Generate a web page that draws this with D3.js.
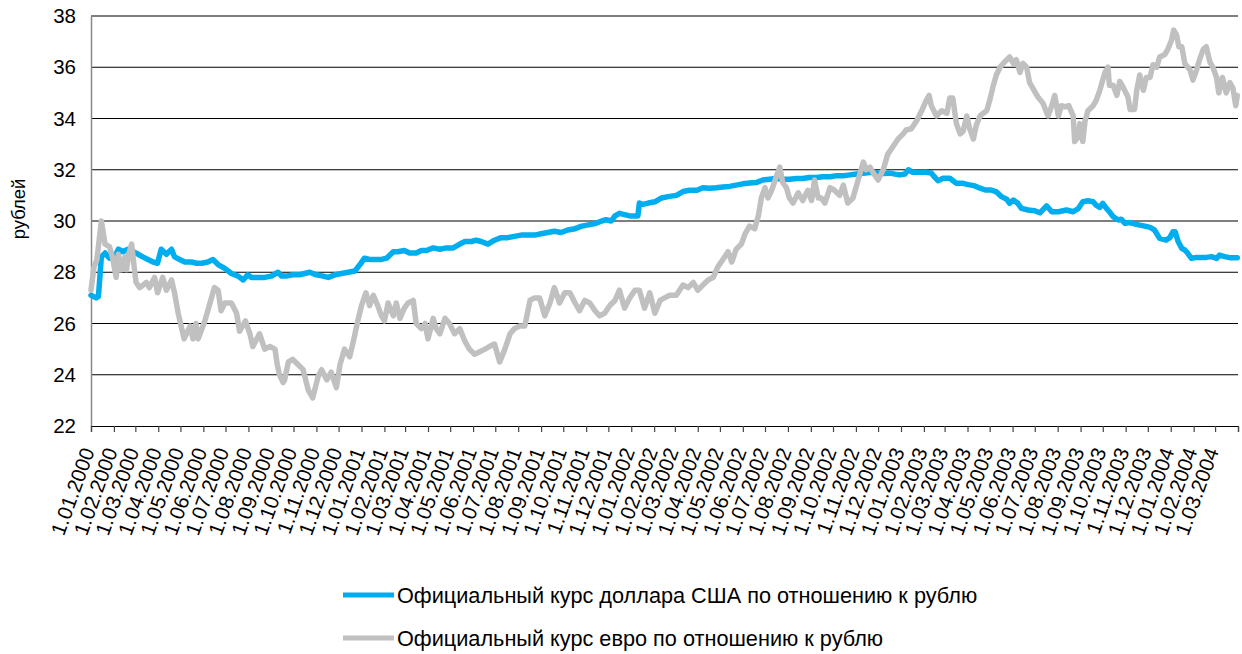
<!DOCTYPE html>
<html><head><meta charset="utf-8">
<script src="https://cdn.jsdelivr.net/npm/d3@7"></script>
<style>
body{margin:0;background:#fff}
text{font-family:"Liberation Sans",Arial,Helvetica,sans-serif;fill:#000}
</style>
</head><body>
<svg id="chart" width="1242" height="654"></svg>
<script>
const seriesNames = ["Официальный курс доллара США по отношению к рублю", "Официальный курс евро по отношению к рублю"];
const seriesColors = ["#00aeef", "#c0c0c0"];
const yTickValues = [22, 24, 26, 28, 30, 32, 34, 36, 38];
const yTitle = "рублей";
const xDomain = ["2000-01-01", "2004-04-01"];

const usd = [["2000-01-01",27.10],["2000-01-08",27.00],["2000-01-11",27.05],["2000-01-13",27.80],["2000-01-15",28.60],["2000-01-20",28.75],["2000-01-26",28.55],["2000-02-02",28.60],["2000-02-07",28.90],["2000-02-13",28.80],["2000-02-20",28.90],["2000-02-27",28.80],["2000-03-05",28.70],["2000-03-11",28.60],["2000-03-18",28.50],["2000-03-25",28.40],["2000-03-31",28.35],["2000-04-05",28.90],["2000-04-12",28.70],["2000-04-19",28.90],["2000-04-23",28.60],["2000-04-30",28.50],["2000-05-07",28.40],["2000-05-16",28.40],["2000-05-23",28.35],["2000-05-30",28.35],["2000-06-07",28.40],["2000-06-14",28.50],["2000-06-21",28.30],["2000-06-30",28.15],["2000-07-09",27.95],["2000-07-18",27.85],["2000-07-25",27.70],["2000-07-31",27.90],["2000-08-05",27.80],["2000-08-14",27.80],["2000-08-23",27.80],["2000-09-01",27.85],["2000-09-10",28.00],["2000-09-15",27.85],["2000-09-21",27.85],["2000-09-30",27.90],["2000-10-09",27.90],["2000-10-16",27.95],["2000-10-23",28.00],["2000-11-01",27.90],["2000-11-10",27.85],["2000-11-17",27.80],["2000-11-26",27.90],["2000-12-05",27.95],["2000-12-14",28.00],["2000-12-23",28.05],["2000-12-30",28.30],["2001-01-05",28.55],["2001-01-12",28.50],["2001-01-19",28.50],["2001-01-28",28.50],["2001-02-04",28.55],["2001-02-13",28.80],["2001-02-19",28.80],["2001-02-28",28.85],["2001-03-07",28.75],["2001-03-16",28.75],["2001-03-23",28.85],["2001-03-30",28.85],["2001-04-08",28.95],["2001-04-17",28.90],["2001-04-26",28.95],["2001-05-05",28.95],["2001-05-14",29.10],["2001-05-21",29.20],["2001-05-30",29.20],["2001-06-05",29.25],["2001-06-12",29.20],["2001-06-21",29.10],["2001-06-30",29.25],["2001-07-09",29.35],["2001-07-18",29.35],["2001-07-27",29.40],["2001-08-05",29.45],["2001-08-14",29.45],["2001-08-23",29.45],["2001-09-01",29.50],["2001-09-10",29.55],["2001-09-19",29.60],["2001-09-28",29.55],["2001-10-07",29.65],["2001-10-17",29.70],["2001-10-26",29.80],["2001-11-04",29.85],["2001-11-13",29.90],["2001-11-22",30.00],["2001-11-28",30.05],["2001-12-05",30.00],["2001-12-10",30.20],["2001-12-16",30.30],["2001-12-23",30.25],["2001-12-30",30.20],["2002-01-06",30.20],["2002-01-10",30.20],["2002-01-12",30.70],["2002-01-17",30.65],["2002-01-24",30.70],["2002-02-02",30.75],["2002-02-11",30.90],["2002-02-20",30.95],["2002-03-03",31.00],["2002-03-12",31.15],["2002-03-21",31.20],["2002-03-31",31.20],["2002-04-08",31.30],["2002-04-17",31.28],["2002-04-26",31.30],["2002-05-05",31.33],["2002-05-14",31.35],["2002-05-23",31.40],["2002-06-01",31.45],["2002-06-10",31.48],["2002-06-19",31.50],["2002-06-28",31.60],["2002-07-07",31.63],["2002-07-16",31.66],["2002-07-25",31.63],["2002-08-03",31.63],["2002-08-13",31.66],["2002-08-21",31.66],["2002-08-30",31.70],["2002-09-09",31.70],["2002-09-17",31.73],["2002-09-27",31.73],["2002-10-06",31.77],["2002-10-15",31.77],["2002-10-24",31.80],["2002-11-02",31.83],["2002-11-11",31.86],["2002-11-22",31.90],["2002-12-01",31.87],["2002-12-10",31.85],["2002-12-17",31.87],["2002-12-24",31.83],["2002-12-30",31.80],["2003-01-06",31.83],["2003-01-11",32.00],["2003-01-17",31.90],["2003-01-26",31.90],["2003-02-04",31.90],["2003-02-11",31.87],["2003-02-15",31.73],["2003-02-20",31.57],["2003-02-27",31.67],["2003-03-08",31.67],["2003-03-12",31.58],["2003-03-17",31.47],["2003-03-26",31.47],["2003-04-02",31.42],["2003-04-11",31.37],["2003-04-18",31.28],["2003-04-25",31.21],["2003-05-03",31.21],["2003-05-10",31.14],["2003-05-17",30.95],["2003-05-24",30.85],["2003-05-28",30.69],["2003-06-02",30.82],["2003-06-08",30.69],["2003-06-13",30.49],["2003-06-22",30.43],["2003-07-01",30.40],["2003-07-08",30.32],["2003-07-17",30.59],["2003-07-24",30.36],["2003-08-02",30.36],["2003-08-13",30.43],["2003-08-22",30.36],["2003-08-29",30.49],["2003-09-04",30.75],["2003-09-11",30.79],["2003-09-18",30.75],["2003-09-22",30.62],["2003-09-27",30.53],["2003-10-01",30.69],["2003-10-06",30.49],["2003-10-10",30.36],["2003-10-15",30.17],["2003-10-22",30.04],["2003-10-26",30.07],["2003-10-31",29.91],["2003-11-07",29.94],["2003-11-13",29.89],["2003-11-20",29.84],["2003-11-27",29.80],["2003-12-04",29.75],["2003-12-10",29.65],["2003-12-17",29.32],["2003-12-26",29.26],["2003-12-31",29.36],["2004-01-04",29.58],["2004-01-07",29.58],["2004-01-11",29.20],["2004-01-16",28.93],["2004-01-20",28.87],["2004-01-24",28.74],["2004-01-29",28.54],["2004-02-05",28.58],["2004-02-12",28.58],["2004-02-18",28.58],["2004-02-25",28.61],["2004-03-03",28.54],["2004-03-07",28.67],["2004-03-14",28.61],["2004-03-21",28.57],["2004-03-28",28.57],["2004-03-31",28.57]];

const eur = [["2000-01-01",27.30],["2000-01-05",28.20],["2000-01-09",28.50],["2000-01-15",30.00],["2000-01-20",29.10],["2000-01-26",29.00],["2000-01-30",28.60],["2000-02-04",27.80],["2000-02-07",28.70],["2000-02-11",28.10],["2000-02-16",28.60],["2000-02-18",28.10],["2000-02-21",28.70],["2000-02-25",29.10],["2000-02-28",28.30],["2000-03-02",27.60],["2000-03-07",27.40],["2000-03-16",27.60],["2000-03-20",27.40],["2000-03-27",27.80],["2000-03-31",27.20],["2000-04-07",27.80],["2000-04-12",27.30],["2000-04-19",27.70],["2000-04-23",27.20],["2000-04-28",26.40],["2000-05-02",25.90],["2000-05-06",25.40],["2000-05-14",25.90],["2000-05-18",25.40],["2000-05-22",26.00],["2000-05-25",25.40],["2000-06-03",26.10],["2000-06-10",26.80],["2000-06-16",27.40],["2000-06-21",27.30],["2000-06-25",26.50],["2000-06-30",26.80],["2000-07-09",26.80],["2000-07-16",26.40],["2000-07-20",25.70],["2000-07-28",26.10],["2000-08-03",25.60],["2000-08-07",25.10],["2000-08-16",25.60],["2000-08-23",25.00],["2000-08-30",25.10],["2000-09-06",25.00],["2000-09-09",24.40],["2000-09-12",24.00],["2000-09-17",23.70],["2000-09-19",23.80],["2000-09-24",24.50],["2000-09-30",24.60],["2000-10-07",24.40],["2000-10-14",24.20],["2000-10-21",23.40],["2000-10-27",23.10],["2000-11-03",23.90],["2000-11-08",24.20],["2000-11-15",23.80],["2000-11-21",24.10],["2000-11-28",23.50],["2000-12-03",24.40],["2000-12-09",25.00],["2000-12-16",24.70],["2000-12-21",25.30],["2000-12-27",26.10],["2001-01-01",26.70],["2001-01-07",27.20],["2001-01-12",26.70],["2001-01-17",27.10],["2001-01-23",26.70],["2001-01-28",26.30],["2001-02-01",26.10],["2001-02-06",26.80],["2001-02-13",26.30],["2001-02-17",26.80],["2001-02-22",26.20],["2001-02-28",26.60],["2001-03-05",26.80],["2001-03-12",26.90],["2001-03-16",26.00],["2001-03-23",25.80],["2001-03-28",26.00],["2001-04-01",25.40],["2001-04-08",26.20],["2001-04-12",25.80],["2001-04-17",25.60],["2001-04-24",26.20],["2001-04-30",26.00],["2001-05-07",25.60],["2001-05-14",25.80],["2001-05-21",25.30],["2001-05-27",25.00],["2001-06-03",24.80],["2001-06-10",24.90],["2001-06-17",25.00],["2001-06-23",25.10],["2001-06-30",25.20],["2001-07-07",24.50],["2001-07-14",25.00],["2001-07-21",25.60],["2001-07-27",25.80],["2001-08-03",25.90],["2001-08-10",25.90],["2001-08-17",26.90],["2001-08-23",27.00],["2001-08-30",27.00],["2001-09-06",26.30],["2001-09-13",26.80],["2001-09-19",27.40],["2001-09-26",26.80],["2001-10-03",27.20],["2001-10-10",27.20],["2001-10-17",26.80],["2001-10-23",26.50],["2001-10-30",26.90],["2001-11-06",26.80],["2001-11-13",26.50],["2001-11-19",26.30],["2001-11-26",26.40],["2001-12-03",26.70],["2001-12-10",26.90],["2001-12-16",27.30],["2001-12-23",26.60],["2001-12-30",27.00],["2002-01-06",27.30],["2002-01-12",27.30],["2002-01-19",26.60],["2002-01-26",27.20],["2002-02-02",26.40],["2002-02-09",26.90],["2002-02-15",27.00],["2002-02-22",27.10],["2002-03-03",27.10],["2002-03-12",27.50],["2002-03-19",27.40],["2002-03-26",27.60],["2002-04-01",27.30],["2002-04-08",27.50],["2002-04-15",27.70],["2002-04-22",27.80],["2002-04-28",28.20],["2002-05-05",28.50],["2002-05-12",28.80],["2002-05-17",28.40],["2002-05-23",28.90],["2002-05-30",29.10],["2002-06-04",29.50],["2002-06-10",29.80],["2002-06-17",29.70],["2002-06-22",30.20],["2002-06-26",30.90],["2002-07-01",31.30],["2002-07-05",30.90],["2002-07-10",31.20],["2002-07-16",31.70],["2002-07-21",32.10],["2002-07-25",31.50],["2002-07-30",31.30],["2002-08-03",30.90],["2002-08-08",30.70],["2002-08-15",31.10],["2002-08-21",30.80],["2002-08-28",31.20],["2002-09-02",30.80],["2002-09-06",31.60],["2002-09-11",30.90],["2002-09-15",30.90],["2002-09-20",30.70],["2002-09-27",31.30],["2002-10-03",31.20],["2002-10-10",31.00],["2002-10-15",31.40],["2002-10-21",30.70],["2002-10-28",30.90],["2002-11-04",31.60],["2002-11-11",32.30],["2002-11-15",32.00],["2002-11-20",32.10],["2002-11-24",31.90],["2002-12-01",31.60],["2002-12-08",32.00],["2002-12-14",32.60],["2002-12-21",32.90],["2002-12-28",33.20],["2003-01-04",33.40],["2003-01-08",33.55],["2003-01-15",33.60],["2003-01-22",33.90],["2003-01-29",34.30],["2003-02-04",34.70],["2003-02-08",34.90],["2003-02-11",34.50],["2003-02-18",34.10],["2003-02-25",34.30],["2003-03-04",34.20],["2003-03-08",34.80],["2003-03-12",34.80],["2003-03-17",33.80],["2003-03-22",33.40],["2003-03-26",33.50],["2003-03-31",34.10],["2003-04-04",33.60],["2003-04-09",33.20],["2003-04-13",33.75],["2003-04-18",34.10],["2003-04-22",34.20],["2003-04-27",34.30],["2003-05-01",34.70],["2003-05-06",35.30],["2003-05-10",35.70],["2003-05-15",36.00],["2003-05-21",36.20],["2003-05-28",36.40],["2003-06-02",36.15],["2003-06-06",36.30],["2003-06-11",35.80],["2003-06-15",36.15],["2003-06-20",36.00],["2003-06-24",35.40],["2003-07-01",35.05],["2003-07-05",34.85],["2003-07-12",34.60],["2003-07-19",34.10],["2003-07-24",34.50],["2003-07-28",34.90],["2003-08-02",34.10],["2003-08-06",34.50],["2003-08-11",34.45],["2003-08-16",34.50],["2003-08-22",34.10],["2003-08-24",33.10],["2003-08-29",33.30],["2003-08-31",33.80],["2003-09-04",33.10],["2003-09-07",33.90],["2003-09-11",34.30],["2003-09-18",34.50],["2003-09-22",34.70],["2003-09-27",35.10],["2003-10-04",35.80],["2003-10-08",36.00],["2003-10-10",35.30],["2003-10-15",35.30],["2003-10-20",34.90],["2003-10-24",35.45],["2003-10-28",35.25],["2003-11-04",34.85],["2003-11-07",34.35],["2003-11-13",34.35],["2003-11-16",35.10],["2003-11-20",35.70],["2003-11-25",35.10],["2003-11-29",35.60],["2003-12-04",35.60],["2003-12-08",36.10],["2003-12-13",36.00],["2003-12-17",36.40],["2003-12-24",36.50],["2003-12-28",36.70],["2004-01-02",37.05],["2004-01-05",37.45],["2004-01-09",37.25],["2004-01-12",36.80],["2004-01-16",36.80],["2004-01-20",36.15],["2004-01-27",35.90],["2004-01-31",35.50],["2004-02-05",35.90],["2004-02-09",36.30],["2004-02-14",36.70],["2004-02-18",36.80],["2004-02-23",36.20],["2004-02-27",36.00],["2004-03-03",35.60],["2004-03-06",35.00],["2004-03-11",35.60],["2004-03-16",35.00],["2004-03-21",35.40],["2004-03-25",35.20],["2004-03-29",34.50],["2004-03-31",34.90]];

const parse = d3.timeParse("%Y-%m-%d");
const fmt = d3.timeFormat("%-d.%m.%Y");
const svg = d3.select("#chart");

const m = {left: 91, right: 1238, top: 16, bottom: 426};
const x = d3.scaleTime().domain(xDomain.map(parse)).range([m.left, m.right]);
const y = d3.scaleLinear().domain([22, 38]).range([m.bottom, m.top]);

// gridlines
svg.append("g").selectAll("line").data(yTickValues.slice(1)).join("line")
  .attr("x1", m.left).attr("x2", m.right)
  .attr("y1", d => y(d)).attr("y2", d => y(d))
  .attr("stroke", "#000").attr("stroke-width", 1.2);

// y axis
const yAxis = svg.append("g").attr("transform", `translate(${m.left},0)`)
  .call(d3.axisLeft(y).tickValues(yTickValues).tickSize(0).tickPadding(15).tickFormat(d3.format("d")));
yAxis.select(".domain").attr("stroke", "#888").attr("stroke-width", 1.5);
yAxis.selectAll("text").attr("font-size", 20.5).attr("font-family", "Liberation Sans, Arial, sans-serif");

// x axis
const months = d3.timeMonth.range(parse(xDomain[0]), d3.timeDay.offset(parse(xDomain[1]), 1));
const xAxis = svg.append("g").attr("transform", `translate(0,${m.bottom})`)
  .call(d3.axisBottom(x).tickValues(months).tickSize(6).tickFormat(""));
xAxis.select(".domain").attr("stroke", "#000").attr("stroke-width", 1.2);
xAxis.selectAll(".tick line").attr("stroke", "#444").attr("stroke-width", 1.2);

svg.append("g").selectAll("text").data(months.slice(0, -1)).join("text")
  .attr("transform", d => `translate(${x(d) + 4},${m.bottom + 25}) rotate(-70)`)
  .attr("text-anchor", "end")
  .attr("font-size", 20.5)
  .text(d => fmt(d));

// y title
svg.append("text")
  .attr("transform", `translate(25,209) rotate(-90)`)
  .attr("text-anchor", "middle")
  .attr("font-size", 18.5)
  .text(yTitle);

// lines
const line = d3.line().x(d => x(parse(d[0]))).y(d => y(d[1]));
[usd, eur].forEach((s, i) => {
  svg.append("path").datum(s)
    .attr("d", line)
    .attr("fill", "none")
    .attr("stroke", seriesColors[i])
    .attr("stroke-width", 5.5)
    .attr("stroke-linejoin", "round")
    .attr("stroke-linecap", "round");
});

// legend
const lg = svg.append("g");
seriesNames.forEach((name, i) => {
  const ly = 595 + i * 43;
  lg.append("line").attr("x1", 343).attr("x2", 394).attr("y1", ly).attr("y2", ly)
    .attr("stroke", seriesColors[i]).attr("stroke-width", 5);
  lg.append("text").attr("x", 397).attr("y", ly + 8).attr("font-size", 21.7).text(name);
});
</script>
</body></html>
